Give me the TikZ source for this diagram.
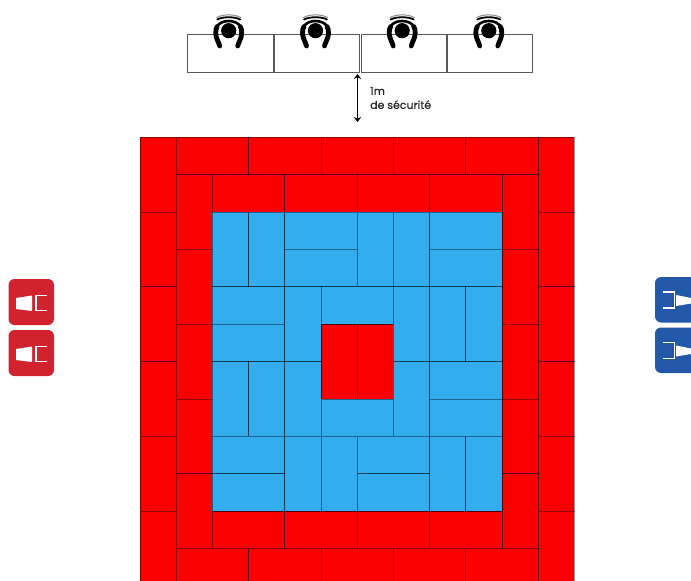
\documentclass[tikz,border=0pt]{standalone}
\usepackage{fontspec}
\setmainfont[FakeBold=0.25]{Poppins}
\usetikzlibrary{arrows.meta}
\definecolor{tilered}{HTML}{FB0000}
\definecolor{tileblue}{HTML}{33ADEE}
\definecolor{btnred}{HTML}{D1232E}
\definecolor{btnblue}{HTML}{2159A8}
\newcommand{\tx}[1]{\fpeval{140+36.2*(#1)}}
\newcommand{\ty}[1]{\fpeval{137.2+37.4*(#1)}}
\tikzset{
  x=1bp,y=-1bp,
  tilebase/.style={draw=black,draw opacity=.42,line width=1bp},
  redtile/.style={tilebase,fill=tilered},
  bluetile/.style={tilebase,fill=tileblue},
  desk/.style={draw=black!65,line width=1bp,fill=white},
  arms/.style={draw=black,line width=4.8bp,line cap=round},
  armtop/.style={draw=black,line width=2.6bp},
  seatback/.style={draw=black,line width=1.8bp,line cap=round},
  seatshade/.style={draw=black!45,line width=1bp,line cap=round},
  buttonred/.style={fill=btnred,rounded corners=6bp},
  buttonblue/.style={fill=btnblue,rounded corners=6bp},
  chairline/.style={draw=white,line width=1.6bp},
  notelabel/.style={anchor=west,inner sep=0pt,align=left,font=\fontsize{11}{14}\selectfont,text=black!85},
  safety/.style={draw=black,line width=1.6bp,{Stealth[length=5bp,width=7.5bp]}-{Stealth[length=5bp,width=7.5bp]}},
}
\newcommand{\person}[1]{%
  \begin{scope}[shift={(#1,0)}]
    \fill[black] (0,30.7) circle (7.6);
    \draw[armtop] (-12,27) .. controls (-10,23) and (-5,21) .. (0,21) .. controls (5,21) and (10,23) .. (12,27);
    \draw[arms] (-9,46) .. controls (-10,42) and (-13,38) .. (-13,33) .. controls (-13,30) and (-12.5,28) .. (-11.5,26.5);
    \draw[arms] (9,46) .. controls (10,42) and (13,38) .. (13,33) .. controls (13,30) and (12.5,28) .. (11.5,26.5);
    \draw[seatshade] (-12,17.5) .. controls (-6,14) and (6,14) .. (12,17.5);
    \draw[seatback] (-11.5,19.5) .. controls (-6,16.5) and (6,16.5) .. (11.5,19.5);
  \end{scope}}
\newcommand{\redbutton}[1]{%
  \begin{scope}[shift={(0,#1)}]
    \fill[buttonred] (8.5,0) rectangle (54,46);
    \fill[white] (16,19) -- (32,16.5) -- (32,32) -- (16,30) -- cycle;
    \draw[chairline] (46.5,16.5) -- (36,16.5) -- (36,31.5) -- (46.5,31.5);
  \end{scope}}
\newcommand{\bluebutton}[1]{%
  \begin{scope}[shift={(0,#1)}]
    \fill[buttonblue] (655,0) rectangle (701,45.5);
    \fill[white] (676,18) -- (691,21) -- (691,26.5) -- (676,29) -- cycle;
    \draw[chairline] (663,15) -- (674.5,15) -- (674.5,31) -- (663,31);
  \end{scope}}
\begin{document}
\begin{tikzpicture}
\useasboundingbox (0,0) rectangle (691,581);
\clip (0,0) rectangle (691,581);
\fill[white] (0,0) rectangle (691,581);
% red tiles
\foreach \a/\b/\c/\d in {
  0/0/1/2,0/2/1/4,0/4/1/6,0/6/1/8,0/8/1/10,0/10/1/12,
  11/0/12/2,11/2/12/4,11/4/12/6,11/6/12/8,11/8/12/10,11/10/12/12,
  1/0/3/1,3/0/5/1,5/0/7/1,7/0/9/1,9/0/11/1,
  1/11/3/12,3/11/5/12,5/11/7/12,7/11/9/12,9/11/11/12,
  1/1/2/3,1/3/2/5,1/5/2/7,1/7/2/9,1/9/2/11,
  10/1/11/3,10/3/11/5,10/5/11/7,10/7/11/9,10/9/11/11,
  2/1/4/2,4/1/6/2,6/1/8/2,8/1/10/2,
  2/10/4/11,4/10/6/11,6/10/8/11,8/10/10/11,
  5/5/6/7,6/5/7/7}
  \path[redtile] ({\tx{\a}},{\ty{\b}}) rectangle ({\tx{\c}},{\ty{\d}});
% blue tiles
\foreach \a/\b/\c/\d in {
  2/2/3/4,3/2/4/4,4/2/6/3,4/3/6/4,6/2/7/4,7/2/8/4,8/2/10/3,8/3/10/4,
  2/4/4/5,2/5/4/6,4/4/5/6,5/4/7/5,7/4/8/6,8/4/9/6,9/4/10/6,
  2/6/3/8,3/6/4/8,4/6/5/8,5/7/7/8,7/6/8/8,8/6/10/7,8/7/10/8,
  2/8/4/9,2/9/4/10,4/8/5/10,5/8/6/10,6/8/8/9,6/9/8/10,8/8/9/10,9/8/10/10}
  \path[bluetile] ({\tx{\a}},{\ty{\b}}) rectangle ({\tx{\c}},{\ty{\d}});
% desks
\path[desk] (187.5,34.6) rectangle (273,72.2);
\path[desk] (274,34.6) rectangle (359.5,72.2);
\path[desk] (361,34.6) rectangle (446.5,72.2);
\path[desk] (447.5,34.6) rectangle (532.5,72.2);
\person{228.7}
\person{315.5}
\person{402.2}
\person{488.8}
% safety distance
\coordinate (safetop) at (357.5,74);
\coordinate (safebot) at (357.5,122);
\draw[safety] (safetop) -- (safebot);
\node[notelabel] (safetext) at (370,98) {1m\\de sécurité};
% buttons
\redbutton{279}
\redbutton{330}
\bluebutton{277}
\bluebutton{327.5}
\end{tikzpicture}
\end{document}
